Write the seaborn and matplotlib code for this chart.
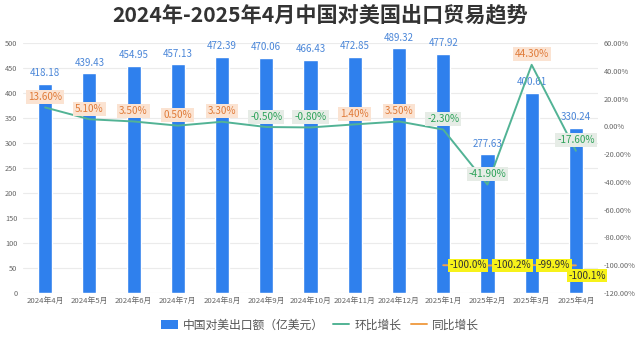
import numpy as np
import pandas as pd
import matplotlib
matplotlib.use("Agg")
import matplotlib.pyplot as plt
from matplotlib.patches import Patch
from matplotlib.lines import Line2D
import seaborn as sns

months = ['2024年4月', '2024年5月', '2024年6月', '2024年7月', '2024年8月', '2024年9月',
          '2024年10月', '2024年11月', '2024年12月', '2025年1月', '2025年2月', '2025年3月', '2025年4月']
export_values = [418.18, 439.43, 454.95, 457.13, 472.39, 470.06, 466.43, 472.85,
                 489.32, 477.92, 277.63, 400.61, 330.24]
mom_growth = [13.6, 5.1, 3.5, 0.5, 3.3, -0.5, -0.8, 1.4, 3.5, -2.3, -41.9, 44.3, -17.6]
yoy_growth = [np.nan] * 9 + [-100.0, -100.2, -99.9, -100.1]

title = '2024年-2025年4月中国对美国出口贸易趋势'
bar_name = '中国对美出口额（亿美元）'
mom_name = '环比增长'
yoy_name = '同比增长'

sns.set_theme(style="white")
plt.rcParams['font.family'] = ['Noto Sans CJK SC', 'DejaVu Sans']

BAR_C = '#2f80ed'
MOM_C = '#52b395'
YOY_C = '#f0a04b'

df = pd.DataFrame({'month': months, 'export': export_values,
                   'mom': mom_growth, 'yoy': yoy_growth})
df['pos'] = np.arange(len(df))

fig = plt.figure(figsize=(6.4, 3.44), dpi=100)
ax = fig.add_axes([23/640, 1-293/344, (598-23)/640, 250/344])

sns.barplot(data=df, x='month', y='export', color=BAR_C, width=0.32,
            saturation=1, ax=ax, zorder=2)
ax.set_xlim(-0.5, len(df) - 0.5)
ax.set_ylim(0, 500)
ax.set_yticks(np.arange(0, 501, 50))
ax.yaxis.grid(True, color='#ebebeb', lw=0.8, zorder=0)
ax.set_axisbelow(True)
ax.set_xlabel('')
ax.set_ylabel('')
for s in ax.spines.values():
    s.set_visible(False)
ax.tick_params(axis='both', length=0, colors='#666666', labelsize=5.3, pad=4)
ax.tick_params(axis='x', labelsize=5.6, pad=3)
ax.bar_label(ax.containers[0], fmt='%.2f', padding=4, fontsize=7, color='#4a86d8')

ax2 = ax.twinx()
sns.lineplot(data=df, x='pos', y='mom', color=MOM_C, lw=1.4, ax=ax2, zorder=3)
sns.lineplot(data=df, x='pos', y='yoy', color=YOY_C, lw=1.4, ax=ax2, zorder=3)
ax2.set_ylim(-120, 60)
ax2.set_yticks(np.arange(-120, 61, 20))
ax2.set_yticklabels([f'{v:.2f}%' for v in np.arange(-120, 61, 20)])
ax2.set_xlabel('')
ax2.set_ylabel('')
for s in ax2.spines.values():
    s.set_visible(False)
ax2.tick_params(axis='y', length=0, colors='#666666', labelsize=5.3, pad=4)
ax2.set_xlim(-0.5, len(df) - 0.5)

for p, v in zip(df['pos'], df['mom']):
    if v >= 0:
        tc, bc = '#e07b39', '#fbe3d2'
    else:
        tc, bc = '#2ea35a', '#e6ece6'
    ax2.annotate(f'{v:.2f}%', (p, v), xytext=(0, 7.5), textcoords='offset points',
                 ha='center', va='center', fontsize=7.2, color=tc, zorder=5,
                 bbox=dict(boxstyle='square,pad=0.2', fc=bc, ec='none'))

last = len(df) - 1
for i, (p, v) in enumerate(zip(df['pos'], df['yoy'])):
    if np.isnan(v):
        continue
    if i == last:
        xt, yt, ha = (8, -7.5), None, 'center'
    else:
        xt, ha = (4.5, 0), 'left'
    ax2.annotate(f'{v:.1f}%', (p, v), xytext=xt, textcoords='offset points',
                 ha=ha, va='center', fontsize=7.2, color='#333333', zorder=5,
                 bbox=dict(boxstyle='square,pad=0.15', fc='#f7f21a', ec='none'))

fig.text(0.5, 1-15/344, title, ha='center', va='center', fontsize=15.2,
         fontweight='bold', color='#333333')

handles = [Patch(facecolor=BAR_C, edgecolor='none'),
           Line2D([], [], color=MOM_C, lw=1.4),
           Line2D([], [], color=YOY_C, lw=1.4)]
fig.legend(handles, [bar_name, mom_name, yoy_name], loc='center',
           bbox_to_anchor=(0.5, 1-325/344), ncol=3, frameon=False,
           fontsize=8.5, labelcolor='#555555', handlelength=1.4,
           handleheight=0.7, columnspacing=0.8, handletextpad=0.4)

fig.savefig('out.png', dpi=100)
